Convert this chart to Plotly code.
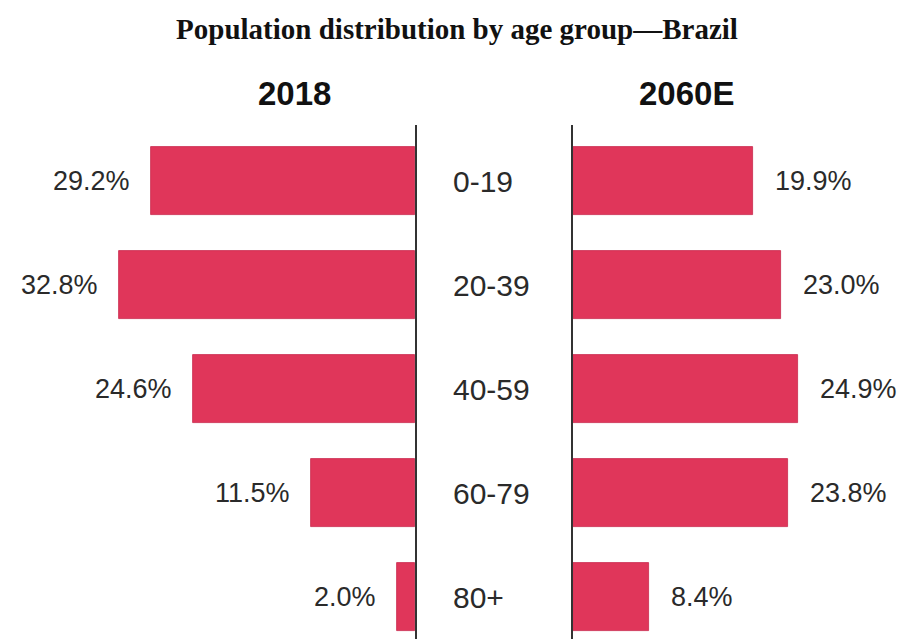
import plotly.graph_objects as go

# Brazil population share by age group (%)
age_groups = ["0-19", "20-39", "40-59", "60-79", "80+"]
share_2018 = [29.2, 32.8, 24.6, 11.5, 2.0]
share_2060 = [19.9, 23.0, 24.9, 23.8, 8.4]
panel_titles = ["2018", "2060E"]
chart_title = "Population distribution by age group\u2014Brazil"

W, H = 908, 639
BAR_COLOR = "#E0365A"
TEXT_COLOR = "#2a2a2a"
PX_PER_PCT = 9.03
LEFT_ZERO_PX = 415
RIGHT_ZERO_PX = 573
AXIS_TOP_PX = 125

fig = go.Figure()

fig.add_trace(go.Bar(
    y=age_groups, x=share_2018, orientation="h",
    xaxis="x", yaxis="y", width=0.66,
    marker=dict(color=BAR_COLOR, line=dict(color="#C82A4C", width=0.8)),
    hoverinfo="skip", showlegend=False,
))
fig.add_trace(go.Bar(
    y=age_groups, x=share_2060, orientation="h",
    xaxis="x2", yaxis="y2", width=0.66,
    marker=dict(color=BAR_COLOR, line=dict(color="#C82A4C", width=0.8)),
    hoverinfo="skip", showlegend=False,
))

# value labels next to each bar end
label_font = dict(family="Liberation Sans, Arial, sans-serif", size=27, color=TEXT_COLOR)
annotations = []
for g, v in zip(age_groups, share_2018):
    annotations.append(dict(x=v, y=g, xref="x", yref="y", text=f"{v:.1f}%",
                            showarrow=False, xanchor="right", xshift=-19,
                            font=label_font))
for g, v in zip(age_groups, share_2060):
    annotations.append(dict(x=v, y=g, xref="x2", yref="y2", text=f"{v:.1f}%",
                            showarrow=False, xanchor="left", xshift=20,
                            font=label_font))

# panel headers
head_font = dict(family="Liberation Sans, Arial, sans-serif", size=33, color="#111111")
annotations.append(dict(x=294 / W, y=1 - 93 / H, xref="paper", yref="paper",
                        text=f"<b>{panel_titles[0]}</b>", showarrow=False,
                        xanchor="center", yanchor="middle", font=head_font))
annotations.append(dict(x=686 / W, y=1 - 93 / H, xref="paper", yref="paper",
                        text=f"<b>{panel_titles[1]}</b>", showarrow=False,
                        xanchor="center", yanchor="middle", font=head_font))

y_domain_top = 1 - AXIS_TOP_PX / H
cat_pitch = 104.0
first_center_px = 181.0
y_top = -(first_center_px - AXIS_TOP_PX) / cat_pitch
y_bottom = (H - first_center_px) / cat_pitch

fig.update_layout(
    width=W, height=H,
    margin=dict(l=0, r=0, t=0, b=0),
    paper_bgcolor="white", plot_bgcolor="white",
    bargap=0,
    title=dict(text=f"<b>{chart_title}</b>", x=457 / W, xanchor="center",
               y=1 - 29 / H, yanchor="middle",
               font=dict(family="Liberation Serif, Times New Roman, serif",
                         size=29, color="#111111")),
    xaxis=dict(domain=[0, LEFT_ZERO_PX / W],
               range=[LEFT_ZERO_PX / PX_PER_PCT, 0],
               visible=False, fixedrange=True),
    xaxis2=dict(domain=[RIGHT_ZERO_PX / W, 1],
                range=[0, (W - RIGHT_ZERO_PX) / PX_PER_PCT],
                visible=False, fixedrange=True),
    yaxis=dict(domain=[0, y_domain_top], anchor="x", side="right",
               type="category", categoryorder="array", categoryarray=age_groups,
               range=[y_bottom, y_top],
               showline=True, linecolor="#333333", linewidth=2,
               showgrid=False, zeroline=False, ticks="",
               ticklabelstandoff=30,
               tickfont=dict(family="Liberation Sans, Arial, sans-serif",
                             size=30, color=TEXT_COLOR)),
    yaxis2=dict(domain=[0, y_domain_top], anchor="x2", side="left",
                matches="y", type="category",
                showline=True, linecolor="#333333", linewidth=2,
                showgrid=False, zeroline=False, ticks="", showticklabels=False),
    annotations=annotations,
)

fig.write_html("out.html")
